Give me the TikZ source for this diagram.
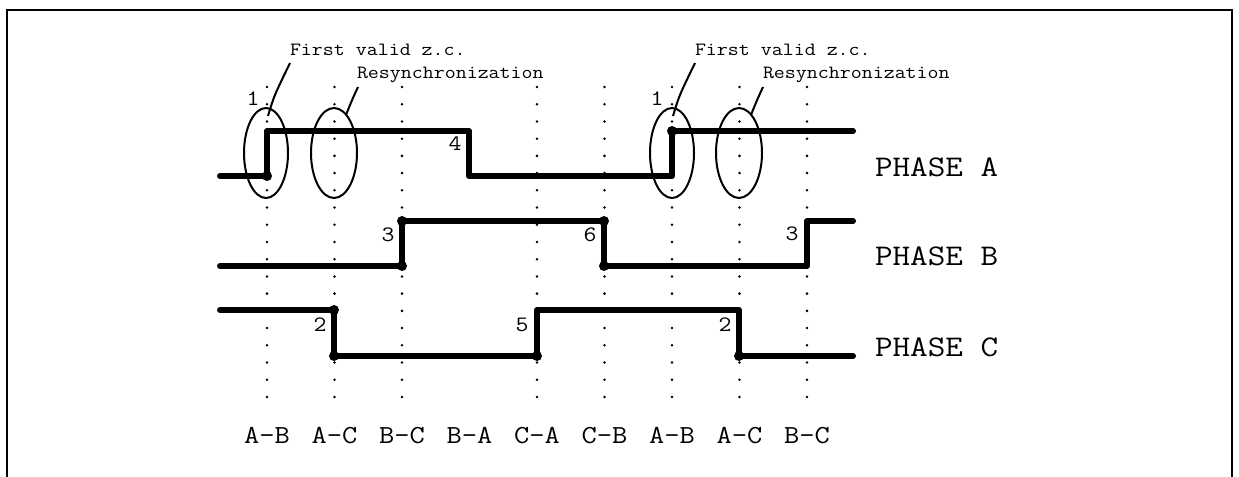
\documentclass[tikz,border=0pt]{standalone}
\usepackage{fontspec}
\setmonofont[FakeStretch=1.14]{Latin Modern Mono}
\newcommand{\annfont}{\ttfamily\fontsize{18.7bp}{20bp}\selectfont}
\newcommand{\digfont}{\ttfamily\fontsize{22bp}{24bp}\selectfont}
\newcommand{\phfont}{\ttfamily\fontsize{30bp}{32bp}\selectfont}
\newcommand{\colfont}{\ttfamily\fontsize{26bp}{28bp}\selectfont}
\begin{document}
\begin{tikzpicture}[x=1bp,y=-1bp,
  signal/.style={line width=6bp,line cap=round,line join=round},
  frameline/.style={line width=2bp},
  ell/.style={line width=2bp},
  leader/.style={line width=2bp},
  corner/.style={fill=black},
  gdot/.style={fill=black},
  txt/.style={inner sep=0pt,outer sep=0pt}]
\useasboundingbox (0,0) rectangle (1239,477);
% frame
\draw[frameline] (7,477) -- (7,10) -- (1232,10) -- (1232,477);
% dotted vertical guides
\foreach \x in {267,334.5,402,537,604.5,672,739.5,807}{
  \foreach \k in {0,...,18}{
    \fill[gdot] (\x,87+17.22*\k) circle (1.4bp);
  }
}
% signals
\draw[signal] (220,176) -- (267,176) -- (267,131) -- (469,131) -- (469,176) -- (672,176) -- (672,131) -- (853,131);
\draw[signal] (220,266) -- (402,266) -- (402,221) -- (604,221) -- (604,266) -- (807,266) -- (807,221) -- (853,221);
\draw[signal] (220,310) -- (334,310) -- (334,356) -- (537,356) -- (537,310) -- (739,310) -- (739,356) -- (853,356);
% transition dots
\foreach \p in {(267,176),(672,131),(402,266),(402,221),(604,221),(604,266),(334,310),(334,356),(537,356),(739,356)}{
  \fill[corner] \p circle (5bp);
}
% ellipses
\draw[ell] (266,153) ellipse [x radius=22, y radius=45];
\draw[ell] (334,153) ellipse [x radius=23, y radius=45];
\draw[ell] (672,153) ellipse [x radius=22, y radius=45];
\draw[ell] (739,153) ellipse [x radius=23, y radius=45];
% leaders
\draw[leader] (268,116) .. controls (274,96) .. (290,63);
\draw[leader] (346,115) .. controls (352,100) .. (358,87);
\draw[leader] (673,116) .. controls (679,96) .. (695,63);
\draw[leader] (751,115) .. controls (757,100) .. (763,87);
% annotations
\node[txt,anchor=base west] (fv1) at (290,56) {\annfont First valid z.c.};
\node[txt,anchor=base west] (rs1) at (357,79) {\annfont Resynchronization};
\node[txt,anchor=base west] (fv2) at (695,56) {\annfont First valid z.c.};
\node[txt,anchor=base west] (rs2) at (763,79) {\annfont Resynchronization};
% digits
\node[txt,anchor=base] (d1) at (253,106) {\digfont 1};
\node[txt,anchor=base] (d4) at (455,151) {\digfont 4};
\node[txt,anchor=base] (d1b) at (657,106) {\digfont 1};
\node[txt,anchor=base] (d3) at (388,242) {\digfont 3};
\node[txt,anchor=base] (d6) at (590,242) {\digfont 6};
\node[txt,anchor=base] (d3b) at (792,241) {\digfont 3};
\node[txt,anchor=base] (d2) at (320,332) {\digfont 2};
\node[txt,anchor=base] (d5) at (522,332) {\digfont 5};
\node[txt,anchor=base] (d2b) at (725,332) {\digfont 2};
% phase labels
\node[txt,anchor=base west] (pa) at (875,177) {\phfont PHASE A};
\node[txt,anchor=base west] (pb) at (875,266) {\phfont PHASE B};
\node[txt,anchor=base west] (pc) at (875,357) {\phfont PHASE C};
% column labels
\foreach \x/\t [count=\i] in {267/A-B,334.5/A-C,402/B-C,469.5/B-A,537/C-A,604.5/C-B,672/A-B,739.5/A-C,807/B-C}{
  \node[txt,anchor=base] (col\i) at (\x,443) {\colfont \t};
}
\end{tikzpicture}
\end{document}
